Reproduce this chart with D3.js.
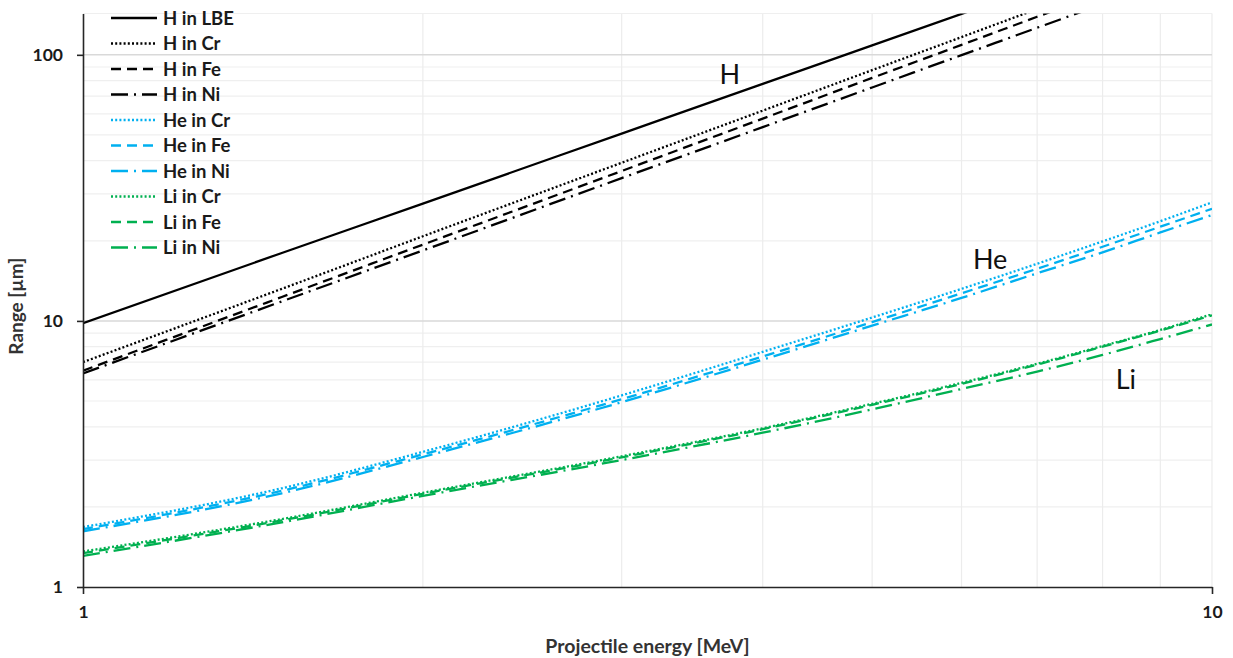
<!DOCTYPE html>
<html>
<head>
<meta charset="utf-8">
<script src="https://cdn.jsdelivr.net/npm/d3@7"></script>
<style>
  body { margin: 0; background: #fff; }
  svg { display: block; font-family: Lato, "Open Sans", sans-serif; }
</style>
</head>
<body>
<div id="chart"></div>
<script>
// Range of light ions in LBE, Cr, Fe, Ni (log-log)
var energy = [1, 1.5, 2, 3, 4, 5, 6, 7, 8, 9, 10];

var hLBE = [9.8, 18.0, 27.6, 50.6, 77.8, 108.5, 142.5, 179.5, 219, 260, 305];
var hCr  = [7.0, 13.2, 20.8, 39.3, 61.7, 87.6, 116.6, 148.6, 183, 220, 260];
var hFe  = [6.5, 12.3, 19.35, 36.6, 57.6, 81.9, 109, 139, 171.5, 206, 244];
var hNi  = [6.35, 11.84, 18.4, 34.4, 53.5, 75.4, 99.7, 126.4, 155, 186, 218.6];
var heCr = [1.68, 2.35, 3.22, 5.25, 7.65, 10.3, 13.2, 16.4, 19.9, 23.7, 27.9];
var heFe = [1.65, 2.3, 3.15, 5.08, 7.35, 9.9, 12.7, 15.7, 19.0, 22.6, 26.4];
var heNi = [1.62, 2.25, 3.08, 4.95, 7.15, 9.6, 12.2, 15.1, 18.1, 21.5, 25.0];
var liCr = [1.36, 1.80, 2.26, 3.10, 3.95, 4.88, 5.85, 6.9, 8.05, 9.25, 10.6];
var liFe = [1.34, 1.78, 2.24, 3.07, 3.92, 4.84, 5.8, 6.85, 8.0, 9.2, 10.5];
var liNi = [1.31, 1.75, 2.2, 3.0, 3.8, 4.65, 5.55, 6.45, 7.45, 8.55, 9.7];

var seriesNames = ["H in LBE", "H in Cr", "H in Fe", "H in Ni",
                   "He in Cr", "He in Fe", "He in Ni",
                   "Li in Cr", "Li in Fe", "Li in Ni"];
var seriesValues = [hLBE, hCr, hFe, hNi, heCr, heFe, heNi, liCr, liFe, liNi];

var xTicks = [1, 10];
var yTicks = [1, 10, 100];
var yMinor = [2, 3, 4, 5, 6, 7, 8, 9, 20, 30, 40, 50, 60, 70, 80, 90];
var xMinor = [2, 3, 4, 5, 6, 7, 8, 9];

// ion annotations, placed in data coordinates
var ionLabels = [
  { text: "H", e: 3.74, r: 78 },
  { text: "He", e: 6.36, r: 15.7 },
  { text: "Li", e: 8.39, r: 5.57 }
];

// styles
var black = "#000000", blue = "#00b0f0", green = "#00b050";
var dotted = "2,2.2", dashed = "10,6", dashDot = "17,6,2,6";
var styles = [
  { color: black, dash: null },
  { color: black, dash: dotted },
  { color: black, dash: dashed },
  { color: black, dash: dashDot },
  { color: blue, dash: dotted },
  { color: blue, dash: dashed },
  { color: blue, dash: dashDot },
  { color: green, dash: dotted },
  { color: green, dash: dashed },
  { color: green, dash: dashDot }
];

var svgWidth = 1233;
var svgHeight = 658;
var margin = { top: 13.5, right: 21, bottom: 71, left: 83 };
var width = svgWidth - margin.left - margin.right;
var height = svgHeight - margin.top - margin.bottom;

var svg = d3.select("#chart")
  .append("svg")
    .attr("width", svgWidth)
    .attr("height", svgHeight)
  .append("g")
    .attr("transform", "translate(" + margin.left + "," + margin.top + ")");

var x = d3.scaleLog().domain([1, 10]).range([0, width]);
var y = d3.scaleLog().domain([1, 143]).range([height, 0]);

// gridlines
svg.append("g").selectAll("line")
  .data(yMinor).enter().append("line")
    .attr("x1", 0).attr("x2", width)
    .attr("y1", function (d) { return y(d); })
    .attr("y2", function (d) { return y(d); })
    .attr("stroke", "#efefef").attr("stroke-width", 1.2);
svg.append("g").selectAll("line")
  .data(xMinor.concat([10])).enter().append("line")
    .attr("y1", 0).attr("y2", height)
    .attr("x1", function (d) { return x(d); })
    .attr("x2", function (d) { return x(d); })
    .attr("stroke", "#ececec").attr("stroke-width", 1.2);
svg.append("g").selectAll("line")
  .data([10, 100]).enter().append("line")
    .attr("x1", 0).attr("x2", width)
    .attr("y1", function (d) { return y(d); })
    .attr("y2", function (d) { return y(d); })
    .attr("stroke", "#d9d9d9").attr("stroke-width", 1.5);
svg.append("line")
  .attr("x1", 0).attr("x2", width).attr("y1", 0).attr("y2", 0)
  .attr("stroke", "#efefef").attr("stroke-width", 1.2);

// clip for lines
svg.append("clipPath").attr("id", "plotclip")
  .append("rect").attr("x", 0).attr("y", 0).attr("width", width).attr("height", height);

var line = d3.line()
  .x(function (d) { return x(d[0]); })
  .y(function (d) { return y(d[1]); })
  .curve(d3.curveMonotoneX);

var lines = svg.append("g").attr("clip-path", "url(#plotclip)");
seriesValues.forEach(function (vals, i) {
  var pts = energy.map(function (e, j) { return [e, vals[j]]; });
  lines.append("path")
    .datum(pts)
    .attr("d", line)
    .attr("fill", "none")
    .attr("stroke", styles[i].color)
    .attr("stroke-width", 2.3)
    .attr("stroke-dasharray", styles[i].dash);
});

// axes
var xAxis = svg.append("g")
  .attr("transform", "translate(0," + height + ")")
  .call(d3.axisBottom(x).tickValues(xTicks).tickFormat(d3.format("d"))
        .tickSizeInner(7).tickSizeOuter(0).tickPadding(12));
var yAxis = svg.append("g")
  .call(d3.axisLeft(y).tickValues(yTicks).tickFormat(d3.format("d"))
        .tickSizeInner(6).tickSizeOuter(0).tickPadding(14));
[xAxis, yAxis].forEach(function (a) {
  a.select(".domain").attr("stroke", "#262626").attr("stroke-width", 1.6);
  a.selectAll(".tick line").attr("stroke", "#262626").attr("stroke-width", 1.6);
  a.selectAll(".tick text")
    .attr("fill", "#1a1a1a")
    .style("font-family", "Lato, sans-serif")
    .style("font-size", "17.5px")
    .style("font-weight", "bold");
});

// axis titles
svg.append("text")
  .attr("x", width / 2).attr("y", height + 66)
  .attr("text-anchor", "middle")
  .style("font-size", "19.5px").style("font-weight", "bold")
  .attr("fill", "#333")
  .text("Projectile energy [MeV]");
svg.append("text")
  .attr("transform", "translate(" + (-60) + "," + (height / 2 + 6) + ") rotate(-90)")
  .attr("text-anchor", "middle")
  .style("font-size", "19px").style("font-weight", "bold")
  .attr("fill", "#333")
  .text("Range [\u00b5m]");

svg.append("g").selectAll("text")
  .data(ionLabels).enter().append("text")
    .attr("x", function (d) { return x(d.e); })
    .attr("y", function (d) { return y(d.r); })
    .attr("text-anchor", "middle")
    .style("font-size", "27px")
    .attr("fill", "#111")
    .text(function (d) { return d.text; });

// legend
var legend = svg.append("g").attr("transform", "translate(28,4.5)");
var rowH = 25.5;
seriesNames.forEach(function (name, i) {
  var row = legend.append("g").attr("transform", "translate(0," + (i * rowH) + ")");
  row.append("line")
    .attr("x1", 0).attr("x2", 46).attr("y1", 0).attr("y2", 0)
    .attr("stroke", styles[i].color)
    .attr("stroke-width", 2.3)
    .attr("stroke-dasharray", styles[i].dash);
  row.append("text")
    .attr("x", 52).attr("y", 0).attr("dy", "0.36em")
    .style("font-size", "18.5px").style("font-weight", "bold")
    .attr("fill", "#1a1a1a")
    .text(name);
});
</script>
</body>
</html>
